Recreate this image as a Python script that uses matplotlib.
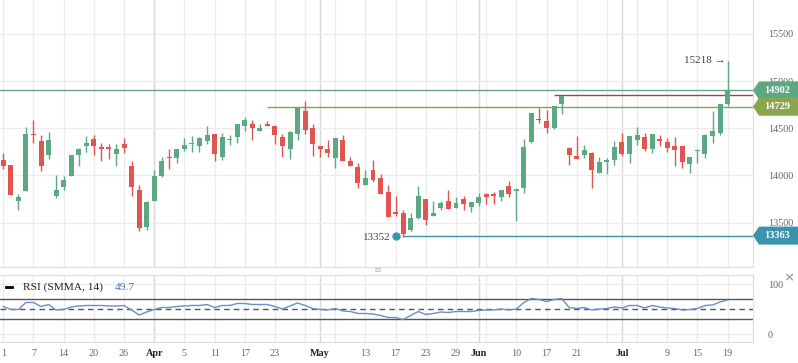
import numpy as np
import matplotlib
matplotlib.use("Agg")
import matplotlib.pyplot as plt
from matplotlib.patches import Polygon
from matplotlib.transforms import IdentityTransform

plt.rcParams['font.family'] = ['Liberation Serif', 'DejaVu Sans']

# daily candles (one per trading day)
opens = [14164, 14111, 13733, 13839, 14440, 14365, 14221, 13786, 13881, 13998,
         14221, 14316, 14387, 14302, 14302, 14231, 14334, 14100, 13846, 13457,
         13733, 13994, 14192, 14189, 14281, 14337, 14316, 14369, 14440, 14199,
         14380, 14411, 14528, 14546, 14475, 14549, 14524, 14408, 14284, 14443,
         14683, 14503, 14312, 14281, 14189, 14376, 14157, 14090, 13903, 14058,
         13970, 13825, 13606, 13602, 13422, 13553, 13751, 13574, 13655, 13726,
         13659, 13751, 13669, 13712, 13804, 13804, 13768, 13888, 13839, 13871,
         14355, 14595, 14577, 14507, 14761, 14291, 14206, 14220, 14238, 14030,
         14146, 14168, 14355, 14228, 14376, 14408, 14284, 14387, 14355, 14312,
         14312, 14125, 14263, 14231, 14422, 14454, 14758]
highs = [14242, 14115, 13804, 14514, 14588, 14429, 14461, 14005, 13994, 14220,
         14295, 14418, 14429, 14344, 14337, 14337, 14397, 14153, 13899, 13733,
         14058, 14199, 14281, 14281, 14397, 14418, 14411, 14524, 14442, 14450,
         14429, 14548, 14623, 14588, 14546, 14577, 14535, 14440, 14471, 14721,
         14789, 14549, 14314, 14376, 14399, 14433, 14196, 14132, 14058, 14164,
         14016, 13899, 13782, 13634, 13606, 13888, 13753, 13729, 13729, 13846,
         13772, 13782, 13721, 13814, 13814, 13825, 13848, 13941, 13859, 14387,
         14664, 14715, 14694, 14738, 14849, 14302, 14418, 14323, 14249, 14196,
         14185, 14366, 14450, 14420, 14514, 14450, 14442, 14429, 14397, 14408,
         14314, 14198, 14281, 14440, 14683, 14760, 15218]
lows = [14069, 13790, 13634, 13835, 14348, 14047, 14175, 13765, 13846, 13995,
        14104, 14252, 14217, 14153, 14175, 14104, 14242, 13786, 13415, 13426,
        13730, 13987, 14072, 14129, 14263, 14252, 14252, 14330, 14153, 14164,
        14327, 14348, 14475, 14380, 14473, 14526, 14337, 14199, 14178, 14380,
        14443, 14210, 14199, 14199, 14083, 14155, 14102, 13871, 13901, 13934,
        13805, 13561, 13570, 13352, 13411, 13542, 13479, 13572, 13634, 13643,
        13657, 13638, 13616, 13680, 13701, 13701, 13729, 13775, 13521, 13818,
        14341, 14560, 14454, 14493, 14648, 14115, 14173, 14182, 13871, 14028,
        14019, 14115, 14210, 14136, 14327, 14260, 14242, 14312, 14249, 14100,
        14083, 14030, 14136, 14189, 14344, 14429, 14740]
closes = [14104, 13793, 13772, 14440, 14433, 14104, 14376, 13846, 13952, 14217,
          14281, 14344, 14316, 14281, 14283, 14281, 14295, 13881, 13447, 13719,
          13994, 14153, 14186, 14281, 14323, 14344, 14397, 14429, 14231, 14408,
          14387, 14546, 14588, 14507, 14503, 14528, 14433, 14316, 14461, 14719,
          14486, 14337, 14284, 14242, 14397, 14157, 14104, 13924, 13973, 13956,
          13807, 13563, 13600, 13380, 13546, 13782, 13532, 13602, 13708, 13645,
          13708, 13701, 13719, 13772, 13772, 13786, 13846, 13807, 13857, 14302,
          14662, 14595, 14507, 14736, 14846, 14217, 14175, 14270, 14062, 14139,
          14164, 14302, 14231, 14418, 14429, 14281, 14440, 14370, 14295, 14270,
          14146, 14196, 14270, 14429, 14471, 14758, 14902]

rsi = [55, 49, 49, 63, 63, 55, 59, 48, 49, 54,
       56, 57, 57, 57, 56, 56, 57, 48, 38, 44,
       49, 53, 53, 55, 56, 57, 57, 59, 53, 57,
       57, 61, 61, 59, 59, 59, 55, 50, 56, 62,
       57, 51, 49, 48, 51, 46, 45, 41, 41, 40,
       37, 33, 33, 29, 37, 45, 39, 41, 44, 43,
       45, 45, 45, 47, 48, 48, 50, 48, 50, 63,
       71, 69, 65, 69, 71, 53, 51, 53, 48, 50,
       51, 54, 52, 57, 57, 52, 57, 54, 52, 51,
       48, 49, 51, 57, 58, 64, 68]

tick_idx = [0, 4, 8, 12, 16, 20, 24, 28, 32, 36, 42, 48, 52, 56, 60, 63, 68, 72, 76, 82, 88, 92, 96]
tick_labels = ['1', '7', '14', '20', '26', 'Apr', '5', '11', '17', '23', 'May', '13', '17',
               '23', '29', 'Jun', '10', '17', '21', 'Jul', '9', '15', '19']
months = ['Apr', 'May', 'Jun', 'Jul']

# price levels drawn as horizontal lines
last_price = 14902
level_olive = 14729
level_red = 14849
level_teal = 13363
max_high = 15218
min_low = 13352

green = '#5ba883'
red = '#e0554f'
gray = '#7a7a7a'

W, H = 798, 363
fig = plt.figure(figsize=(W / 100, H / 100), dpi=100)
ax = fig.add_axes([0, 1 - 267.3 / H, 752.5 / W, 267.3 / H])
ax2 = fig.add_axes([0, 1 - 341.7 / H, 752.5 / W, (341.7 - 275) / H])

o = np.array(opens); h = np.array(highs); l = np.array(lows); c = np.array(closes)
x = np.arange(len(o))
cols = [green if cc > oo else red if cc < oo else gray for oo, cc in zip(o, c)]

# grid
grid_x = list(range(0, 97, 4))
month_x = [tick_idx[i] for i, t in enumerate(tick_labels) if t in months]
for a in (ax, ax2):
    for gx in grid_x:
        a.axvline(gx, color='#ececec', lw=1, zorder=0)
    for gx in month_x:
        a.axvline(gx, color='#d9d9d9', lw=1, zorder=0)
for gy in [13500, 14000, 14500, 15000, 15500]:
    ax.axhline(gy, color='#ececec', lw=1, zorder=0)

# candles
ax.vlines(x, l, h, colors=cols, lw=1, zorder=3)
body = np.abs(c - o)
hgt = np.maximum(body, 12)
bottom = np.minimum(o, c) - (hgt - body) / 2
ax.bar(x, hgt, bottom=bottom, width=0.66, color=cols, zorder=4)

# level lines
ax.hlines(last_price, -1, 100, color='#6f9f88', lw=1, zorder=2)
ax.hlines(level_olive, 35, 100, color='#8aa24e', lw=1, zorder=2)
ax.hlines(level_red, 73, 100, color='#a04646', lw=1, zorder=2)
ax.hlines(level_teal, 53, 100, color='#3b93ad', lw=1, zorder=2)

ax.plot([52], [level_teal], 'o', color='#3b93ad', ms=5, zorder=5)
ax.text(51.3, min_low - 10, str(min_low), ha='right', va='center', fontsize=8, color='#444444')
ax.text(95.8, max_high, f'{max_high} \u2192', ha='right', va='center', fontsize=8, color='#444444',
        family=['Liberation Serif', 'DejaVu Sans'])

ax.set_xlim(-0.44, 99.3)
ax.set_ylim(13027, 15860)
ax.yaxis.tick_right()
ax.set_yticks([13500, 14000, 14500, 15000, 15500])
ax.tick_params(axis='y', length=0, pad=11, labelsize=7.3, labelcolor='#666666')
ax.set_xticks([])
for s in ['top', 'left']:
    ax.spines[s].set_visible(False)
for s in ['right', 'bottom']:
    ax.spines[s].set_color('#dddddd')

# RSI panel
ax2.plot(x, rsi, color='#6b8fc4', lw=1, zorder=3)
ax2.axhline(70, color='#555555', lw=1)
ax2.axhline(30, color='#555555', lw=1)
ax2.axhline(50, color='#555555', lw=1, ls=(0, (4, 3)))
ax2.axhline(100, color='#ececec', lw=1, zorder=0)
ax2.axhline(0, color='#ececec', lw=1, zorder=0)
ax2.set_xlim(-0.44, 99.3)
ax2.set_ylim(-15.4, 118)
ax2.yaxis.tick_right()
ax2.set_yticks([0, 100])
ax2.tick_params(axis='y', length=0, pad=11, labelsize=7.3, labelcolor='#666666')
ax2.set_xticks(tick_idx)
ax2.set_xticklabels(tick_labels)
ax2.tick_params(axis='x', length=0, pad=5, labelsize=7.3, labelcolor='#666666')
for t in ax2.get_xticklabels():
    if t.get_text() in months:
        t.set_color('#222222')
        t.set_fontweight('bold')
ax2.spines['left'].set_visible(False)
for s in ['top', 'right', 'bottom']:
    ax2.spines[s].set_color('#dddddd')

ax2.plot([0.008, 0.016], [0.82, 0.82], color='black', lw=2, transform=ax2.transAxes)
ax2.text(0.03, 0.82, 'RSI (SMMA, 14)', transform=ax2.transAxes, va='center', fontsize=8.2, color='#222222')
ax2.text(0.153, 0.82, '49.7', transform=ax2.transAxes, va='center', fontsize=8.2, color='#4a72b0')

fig.text(378 / W, 1 - 270 / H, '\u2261', ha='center', va='center', fontsize=7, color='#c0c0c0',
         family=['DejaVu Sans'])
fig.text(789 / W, 1 - 278 / H, '\u00d7', ha='center', va='center', fontsize=9.5, color='#888888',
         family=['DejaVu Sans'])

# price tags on the right axis
def tag(price, color):
    yd = ax.transData.transform((0, price))[1]
    x0, x1, hh = 753, 798, 9
    poly = Polygon([(x0, yd), (x0 + 6, yd - hh), (x1, yd - hh), (x1, yd + hh), (x0 + 6, yd + hh)],
                   closed=True, facecolor=color, edgecolor='none', transform=IdentityTransform())
    fig.add_artist(poly)
    fig.text(777, yd, str(price), ha='center', va='center', fontsize=7.5, color='white',
             fontweight='bold', transform=IdentityTransform())

tag(last_price, '#5ba883')
tag(level_olive, '#8ba54d')
tag(level_teal, '#3b93ad')

fig.savefig('out.png', dpi=100)
